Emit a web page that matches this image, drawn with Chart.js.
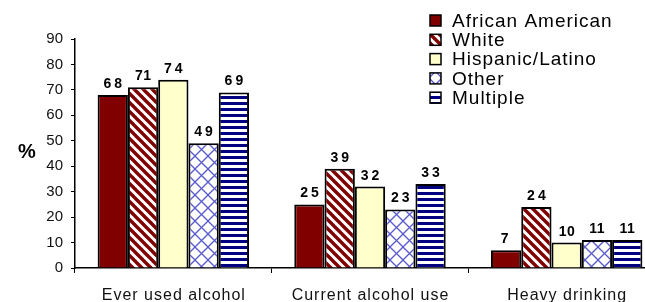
<!DOCTYPE html>
<html><head><meta charset="utf-8">
<script src="https://cdn.jsdelivr.net/npm/chart.js@4/dist/chart.umd.min.js"></script>
<style>
html,body{margin:0;padding:0;background:#fff;overflow:hidden;width:645px;height:302px;}
#wrap{position:absolute;left:0;top:0;width:665px;height:302px;}
</style></head>
<body>
<div id="wrap"><canvas id="c" width="665" height="302"></canvas></div>
<script>
const categories = ["Ever used alcohol", "Current alcohol use", "Heavy drinking"];
const seriesNames = ["African American", "White", "Hispanic/Latino", "Other", "Multiple"];
const africanAmerican = [68, 25, 7];
const white = [71, 39, 24];
const hispanic = [74, 32, 10];
const other = [49, 23, 11];
const multiple = [69, 33, 11];
const yTicks = [0, 10, 20, 30, 40, 50, 60, 70, 80, 90];

const FONT = '"Liberation Sans", Arial, sans-serif';

function tile(w, h, draw) {
  const c = document.createElement('canvas'); c.width = w; c.height = h;
  const g = c.getContext('2d'); g.fillStyle = '#fff'; g.fillRect(0, 0, w, h); draw(g, w, h);
  return document.getElementById('c').getContext('2d').createPattern(c, 'repeat');
}
const diag = tile(9, 9, (g, w, h) => {
  g.strokeStyle = '#800000'; g.lineWidth = 3.4;
  for (let k = -1; k <= 1; k++) { g.beginPath(); g.moveTo(k * w - 2, -2); g.lineTo(k * w + w + 2, h + 2); g.stroke(); }
});
const cross = tile(13, 13, (g, w, h) => {
  g.strokeStyle = '#5a5acc'; g.lineWidth = 1.3;
  for (let k = -1; k <= 1; k++) {
    g.beginPath(); g.moveTo(k * w - 2, -2); g.lineTo(k * w + w + 2, h + 2); g.stroke();
    g.beginPath(); g.moveTo(k * w - 2, h + 2); g.lineTo(k * w + w + 2, -2); g.stroke();
  }
});
const horiz = tile(6, 6, (g, w, h) => { g.fillStyle = '#000080'; g.fillRect(0, 0, w, 3); });

const fills = ['#800000', diag, '#FFFFCC', cross, horiz];
const values = [africanAmerican, white, hispanic, other, multiple];

const datasets = seriesNames.map((n, i) => ({
  label: n, data: values[i], backgroundColor: fills[i], borderColor: '#000', borderWidth: 2,
  borderSkipped: 'bottom', categoryPercentage: 0.77, barPercentage: 1
}));

const extras = {
  id: 'extras',
  afterDatasetsDraw(chart) {
    const ctx = chart.ctx;
    ctx.save();
    ctx.fillStyle = '#000';
    // value labels
    ctx.font = 'bold 14px ' + FONT;
    ctx.textAlign = 'center'; ctx.textBaseline = 'alphabetic';
    chart.data.datasets.forEach((ds, di) => {
      chart.getDatasetMeta(di).data.forEach((bar, j) => {
        const t = String(ds.data[j]);
        ctx.letterSpacing = t.includes('1') ? '0.5px' : '3px';
        ctx.fillText(t, bar.x + (t.length > 1 ? (t.includes('1') ? 0.25 : 1.5) : 0), bar.y - 7);
      });
    });
    ctx.letterSpacing = '0px';
    // % label
    ctx.font = 'bold 20px ' + FONT;
    ctx.textAlign = 'left'; ctx.textBaseline = 'middle';
    ctx.fillText('%', 18, 152);
    // x category labels
    const xs = chart.scales.x;
    ctx.font = '16px ' + FONT;
    ctx.letterSpacing = '1px';
    ctx.textAlign = 'center'; ctx.textBaseline = 'alphabetic';
    ctx.fillStyle = '#111';
    chart.data.labels.forEach((l, i) => ctx.fillText(l, xs.getPixelForValue(i) + 0.5, 300));
    // legend
    ctx.font = '19px ' + FONT;
    ctx.letterSpacing = '1px';
    ctx.textAlign = 'left';
    chart.data.datasets.forEach((ds, i) => {
      const y = 15 + i * 19.3;
      ctx.fillStyle = ds.backgroundColor;
      ctx.fillRect(430, y, 11, 11);
      ctx.strokeStyle = '#000'; ctx.lineWidth = 1.5;
      ctx.strokeRect(430, y, 11, 11);
      ctx.fillStyle = '#000';
      ctx.fillText(ds.label, 452, y + 11.7);
    });
    ctx.restore();
  }
};

new Chart(document.getElementById('c'), {
  type: 'bar',
  data: { labels: categories, datasets },
  options: {
    responsive: false, animation: false, devicePixelRatio: 1,
    layout: { padding: { top: 39, left: 0, right: 0, bottom: 0 } },
    plugins: { legend: { display: false }, tooltip: { enabled: false } },
    scales: {
      x: {
        grid: { display: true, drawOnChartArea: false, offset: true, color: '#000', tickLength: 5, lineWidth: 1 },
        border: { color: '#000', width: 1.5 },
        ticks: { display: false },
        afterFit(s) { s.height = 34; }
      },
      y: {
        min: 0, max: 90,
        afterBuildTicks(s) { s.ticks = yTicks.map(v => ({ value: v })); },
        grid: { display: true, drawOnChartArea: false, color: '#000', tickLength: 4 },
        border: { color: '#000', width: 1.5 },
        ticks: { color: '#111', font: { size: 15, family: FONT }, padding: 8 },
        afterFit(s) { s.width = 75; }
      }
    }
  },
  plugins: [extras]
});
</script>
</body></html>
